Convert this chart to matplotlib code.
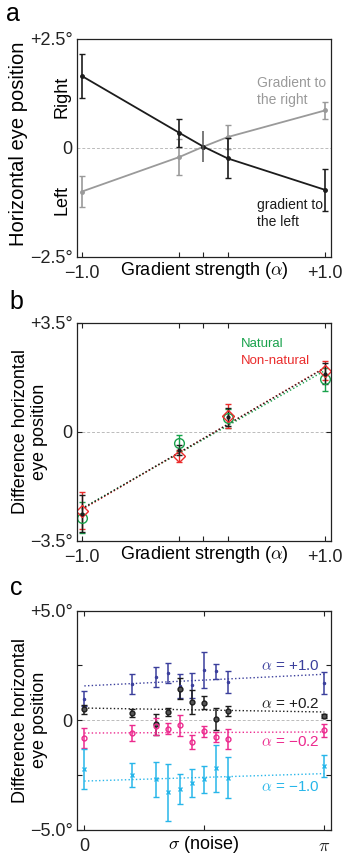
import numpy as np
import matplotlib
matplotlib.use("Agg")
import matplotlib.pyplot as plt
from matplotlib.ticker import FixedLocator

plt.rcParams['font.family'] = ['Liberation Sans', 'DejaVu Sans']
plt.rcParams['mathtext.fontset'] = 'cm'
plt.rcParams['axes.linewidth'] = 0.9

# --- panel a: eye position vs gradient strength
alpha_a = [-1.0, -0.2, 0.0, 0.2, 1.0]
left_mean = [1.65, 0.35, 0.03, -0.24, -0.96]
left_err = [0.50, 0.32, 0.0, 0.46, 0.48]
right_mean = [-1.00, -0.21, 0.03, 0.25, 0.86]
right_err = [0.35, 0.41, 0.0, 0.27, 0.19]
center_err = 0.35

# --- panel b: difference, natural vs non-natural
alpha_b = [-1.0, -0.2, 0.2, 1.0]
nat_mean = [-2.75, -0.35, 0.43, 1.69]
nat_err = [0.50, 0.25, 0.30, 0.37]
non_mean = [-2.53, -0.78, 0.50, 1.96]
non_err = [0.60, 0.20, 0.38, 0.30]
all_mean = [-2.62, -0.58, 0.48, 1.87]
all_err = [0.58, 0.16, 0.28, 0.33]

# --- panel c: difference vs noise, per alpha
noise_frac = [0, 0.2, 0.3, 0.35, 0.4, 0.45, 0.5, 0.55, 0.6, 1.0]
p10_mean = [0.99, 1.64, 1.98, 2.16, 1.55, 1.60, 2.28, 2.24, 1.75, 1.70]
p10_err = [0.33, 0.45, 0.47, 0.46, 0.55, 0.57, 0.82, 0.34, 0.51, 0.50]
p02_mean = [0.50, 0.33, -0.18, 0.38, 1.45, 0.84, 0.81, 0.06, 0.41, 0.20]
p02_err = [0.20, 0.20, 0.48, 0.20, 0.46, 0.53, 0.28, 0.50, 0.23, 0.10]
m02_mean = [-0.79, -0.56, -0.28, -0.38, -0.23, -0.99, -0.50, -0.76, -0.84, -0.46]
m02_err = [0.45, 0.36, 0.38, 0.25, 0.48, 0.30, 0.25, 0.25, 0.45, 0.30]
m10_mean = [-2.21, -2.51, -2.68, -3.27, -3.12, -2.85, -2.69, -2.18, -2.62, -2.10]
m10_err = [0.90, 0.55, 0.80, 1.30, 0.68, 0.63, 0.61, 1.07, 0.94, 0.50]
# fitted lines, value at sigma=0 and sigma=pi
fit_p10 = [1.57, 2.10]
fit_p02 = [0.56, 0.38]
fit_m02 = [-0.58, -0.53]
fit_m10 = [-2.77, -2.43]

GRAY = '#9a9a9a'
BLACK = '#1c1c1c'
GREEN = '#19a24c'
RED = '#ea2c2c'
NAVY = '#3b3f9c'
MAGENTA = '#ec2a8e'
CYAN = '#27b6ea'

FS = 13

fig = plt.figure(figsize=(3.48, 8.56), dpi=100)
ax_a = fig.add_axes([0.2213, 0.6998, 0.7299, 0.2547])
ax_b = fig.add_axes([0.2213, 0.3680, 0.7299, 0.2550])
ax_c = fig.add_axes([0.2213, 0.0304, 0.7299, 0.2562])


def style_axis(ax):
    for s in ax.spines.values():
        s.set_color('#222222')
    ax.tick_params(which='both', direction='in', length=3.5, width=0.8,
                   labelsize=FS, pad=3, colors='#222222')
    ax.tick_params(axis='x', which='major', pad=6)


# ---------------- a
ax = ax_a
x_a = np.array(alpha_a)
idx = [0, 1, 3, 4]
ax.axhline(0, color='#bbbbbb', lw=0.7, ls=(0, (3, 2)), zorder=0)
ax.plot(x_a, right_mean, color=GRAY, lw=1.3, marker='o', ms=2.5)
ax.errorbar(x_a[idx], np.array(right_mean)[idx], yerr=np.array(right_err)[idx],
            fmt='none', ecolor=GRAY, elinewidth=1.2, capsize=2.5, capthick=1.0)
ax.plot(x_a, left_mean, color=BLACK, lw=1.3, marker='o', ms=2.5)
ax.errorbar(x_a[idx], np.array(left_mean)[idx], yerr=np.array(left_err)[idx],
            fmt='none', ecolor=BLACK, elinewidth=1.2, capsize=2.5, capthick=1.0)
ax.errorbar([alpha_a[2]], [left_mean[2]], yerr=[center_err], fmt='none',
            ecolor='#555555', elinewidth=1.1, capsize=0)
ax.set_xlim(-1.04, 1.05)
ax.set_ylim(-2.5, 2.5)
ax.set_xticks([-1.0, 1.0])
ax.set_xticklabels(['\u22121.0', '+1.0'])
ax.xaxis.set_minor_locator(FixedLocator([-0.2, 0.0, 0.2]))
ax.set_yticks([-2.5, 0, 2.5])
ax.set_yticklabels(['\u22122.5\u00b0', '0', '+2.5\u00b0'])
style_axis(ax)
ax.tick_params(axis='y', length=0)
ax.text(0.44, 1.49, 'Gradient to', color=GRAY, fontsize=10, va='center')
ax.text(0.44, 1.10, 'the right', color=GRAY, fontsize=10, va='center')
ax.text(0.44, -1.31, 'gradient to', color=BLACK, fontsize=10, va='center')
ax.text(0.44, -1.70, 'the left', color=BLACK, fontsize=10, va='center')
ax.text(-0.06, 1.18, 'Right', transform=ax.get_yaxis_transform(), rotation=90,
        ha='center', va='center', fontsize=FS)
ax.text(-0.06, -1.19, 'Left', transform=ax.get_yaxis_transform(), rotation=90,
        ha='center', va='center', fontsize=FS)
ax.text(-0.232, 0.52, 'Horizontal eye position', transform=ax.transAxes,
        rotation=90, ha='center', va='center', fontsize=14.5)
ax.text(0.5, -0.064, r'Gradient strength ($\alpha$)', transform=ax.transAxes,
        ha='center', va='center', fontsize=FS)
fig.text(13 / 348, 1 - 14 / 856, 'a', fontsize=18, ha='center', va='center')

# ---------------- b
ax = ax_b
ax.axhline(0, color='#bbbbbb', lw=0.7, ls=(0, (3, 2)), zorder=0)
xb = np.array(alpha_b)
xx = np.array([-1.0, 1.0])
for mean, col in [(nat_mean, GREEN), (non_mean, RED), (all_mean, BLACK)]:
    k, c0 = np.polyfit(xb, mean, 1)
    ax.plot(xx, k * xx + c0, color=col, lw=1.0, ls=':')
ax.errorbar(xb, nat_mean, yerr=nat_err, fmt='o', mfc='none', mec=GREEN, ms=7,
            mew=1.0, ecolor=GREEN, elinewidth=1.0, capsize=2.5, capthick=1.0)
ax.errorbar(xb, non_mean, yerr=non_err, fmt='D', mfc='none', mec=RED, ms=6,
            mew=1.0, ecolor=RED, elinewidth=1.0, capsize=2.5, capthick=1.0)
ax.errorbar(xb, all_mean, yerr=all_err, fmt='o', color=BLACK, ms=2,
            ecolor=BLACK, elinewidth=1.0, capsize=2.5, capthick=1.0)
ax.set_xlim(-1.04, 1.05)
ax.set_ylim(-3.5, 3.5)
ax.set_xticks([-1.0, 1.0])
ax.set_xticklabels(['\u22121.0', '+1.0'])
ax.xaxis.set_minor_locator(FixedLocator([-0.2, 0.0, 0.2]))
ax.set_yticks([-3.5, 0, 3.5])
ax.set_yticklabels(['\u22123.5\u00b0', '0', '+3.5\u00b0'])
style_axis(ax)
ax.tick_params(which='both', top=True, right=True)
ax.text(0.31, 2.81, 'Natural', color=GREEN, fontsize=9.5, va='center')
ax.text(0.31, 2.28, 'Non-natural', color=RED, fontsize=9.5, va='center')
ax.text(-0.185, 0.5, 'Difference horizontal\neye position', transform=ax.transAxes,
        rotation=90, ha='center', va='center', fontsize=FS, linespacing=1.1)
ax.text(0.5, -0.064, r'Gradient strength ($\alpha$)', transform=ax.transAxes,
        ha='center', va='center', fontsize=FS)
fig.text(16 / 348, 1 - 302 / 856, 'b', fontsize=18, ha='center', va='center')

# ---------------- c
ax = ax_c
ax.axhline(0, color='#bbbbbb', lw=0.7, ls=(0, (3, 2)), zorder=0)
xc = np.array(noise_frac) * np.pi
xf = np.array([0.0, np.pi])
series_c = [
    (p10_mean, p10_err, fit_p10, NAVY, '.', 3, NAVY),
    (p02_mean, p02_err, fit_p02, BLACK, 'o', 3.5, '#555555'),
    (m02_mean, m02_err, fit_m02, MAGENTA, 'o', 3.5, 'none'),
    (m10_mean, m10_err, fit_m10, CYAN, 'x', 3.5, CYAN),
]
for mean, err, fit, col, mk, ms, face in series_c:
    ax.plot(xf, fit, color=col, lw=1.0, ls=':')
    ax.errorbar(xc, mean, yerr=err, fmt=mk, color=col, mfc=face, mec=col, ms=ms,
                mew=1.0, ecolor=col, elinewidth=1.1, capsize=2.5, capthick=1.0)
ax.set_xlim(-0.096, np.pi + 0.088)
ax.set_ylim(-5, 5)
ax.set_xticks([0, np.pi])
ax.set_xticklabels(['0', r'$\pi$'])
ax.xaxis.set_minor_locator(FixedLocator([np.pi / 2]))
ax.set_yticks([-5, 0, 5])
ax.set_yticklabels(['\u22125.0\u00b0', '0', '+5.0\u00b0'])
ax.yaxis.set_minor_locator(FixedLocator([-2.5, 2.5]))
style_axis(ax)
ax.tick_params(which='both', top=True, right=True)
ax.text(3.085, 2.48, r'$\alpha$ = +1.0', color=NAVY, fontsize=11, ha='right', va='center')
ax.text(3.085, 0.76, r'$\alpha$ = +0.2', color=BLACK, fontsize=11, ha='right', va='center')
ax.text(3.085, -0.99, '$\\alpha$ = \u22120.2', color=MAGENTA, fontsize=11, ha='right', va='center')
ax.text(3.085, -3.05, '$\\alpha$ = \u22121.0', color=CYAN, fontsize=11, ha='right', va='center')
ax.text(-0.185, 0.5, 'Difference horizontal\neye position', transform=ax.transAxes,
        rotation=90, ha='center', va='center', fontsize=FS, linespacing=1.1)
ax.text(0.5, -0.068, r'$\sigma$ (noise)', transform=ax.transAxes,
        ha='center', va='center', fontsize=FS)
fig.text(16 / 348, 1 - 588 / 856, 'c', fontsize=18, ha='center', va='center')

fig.savefig('out.png', dpi=100)
